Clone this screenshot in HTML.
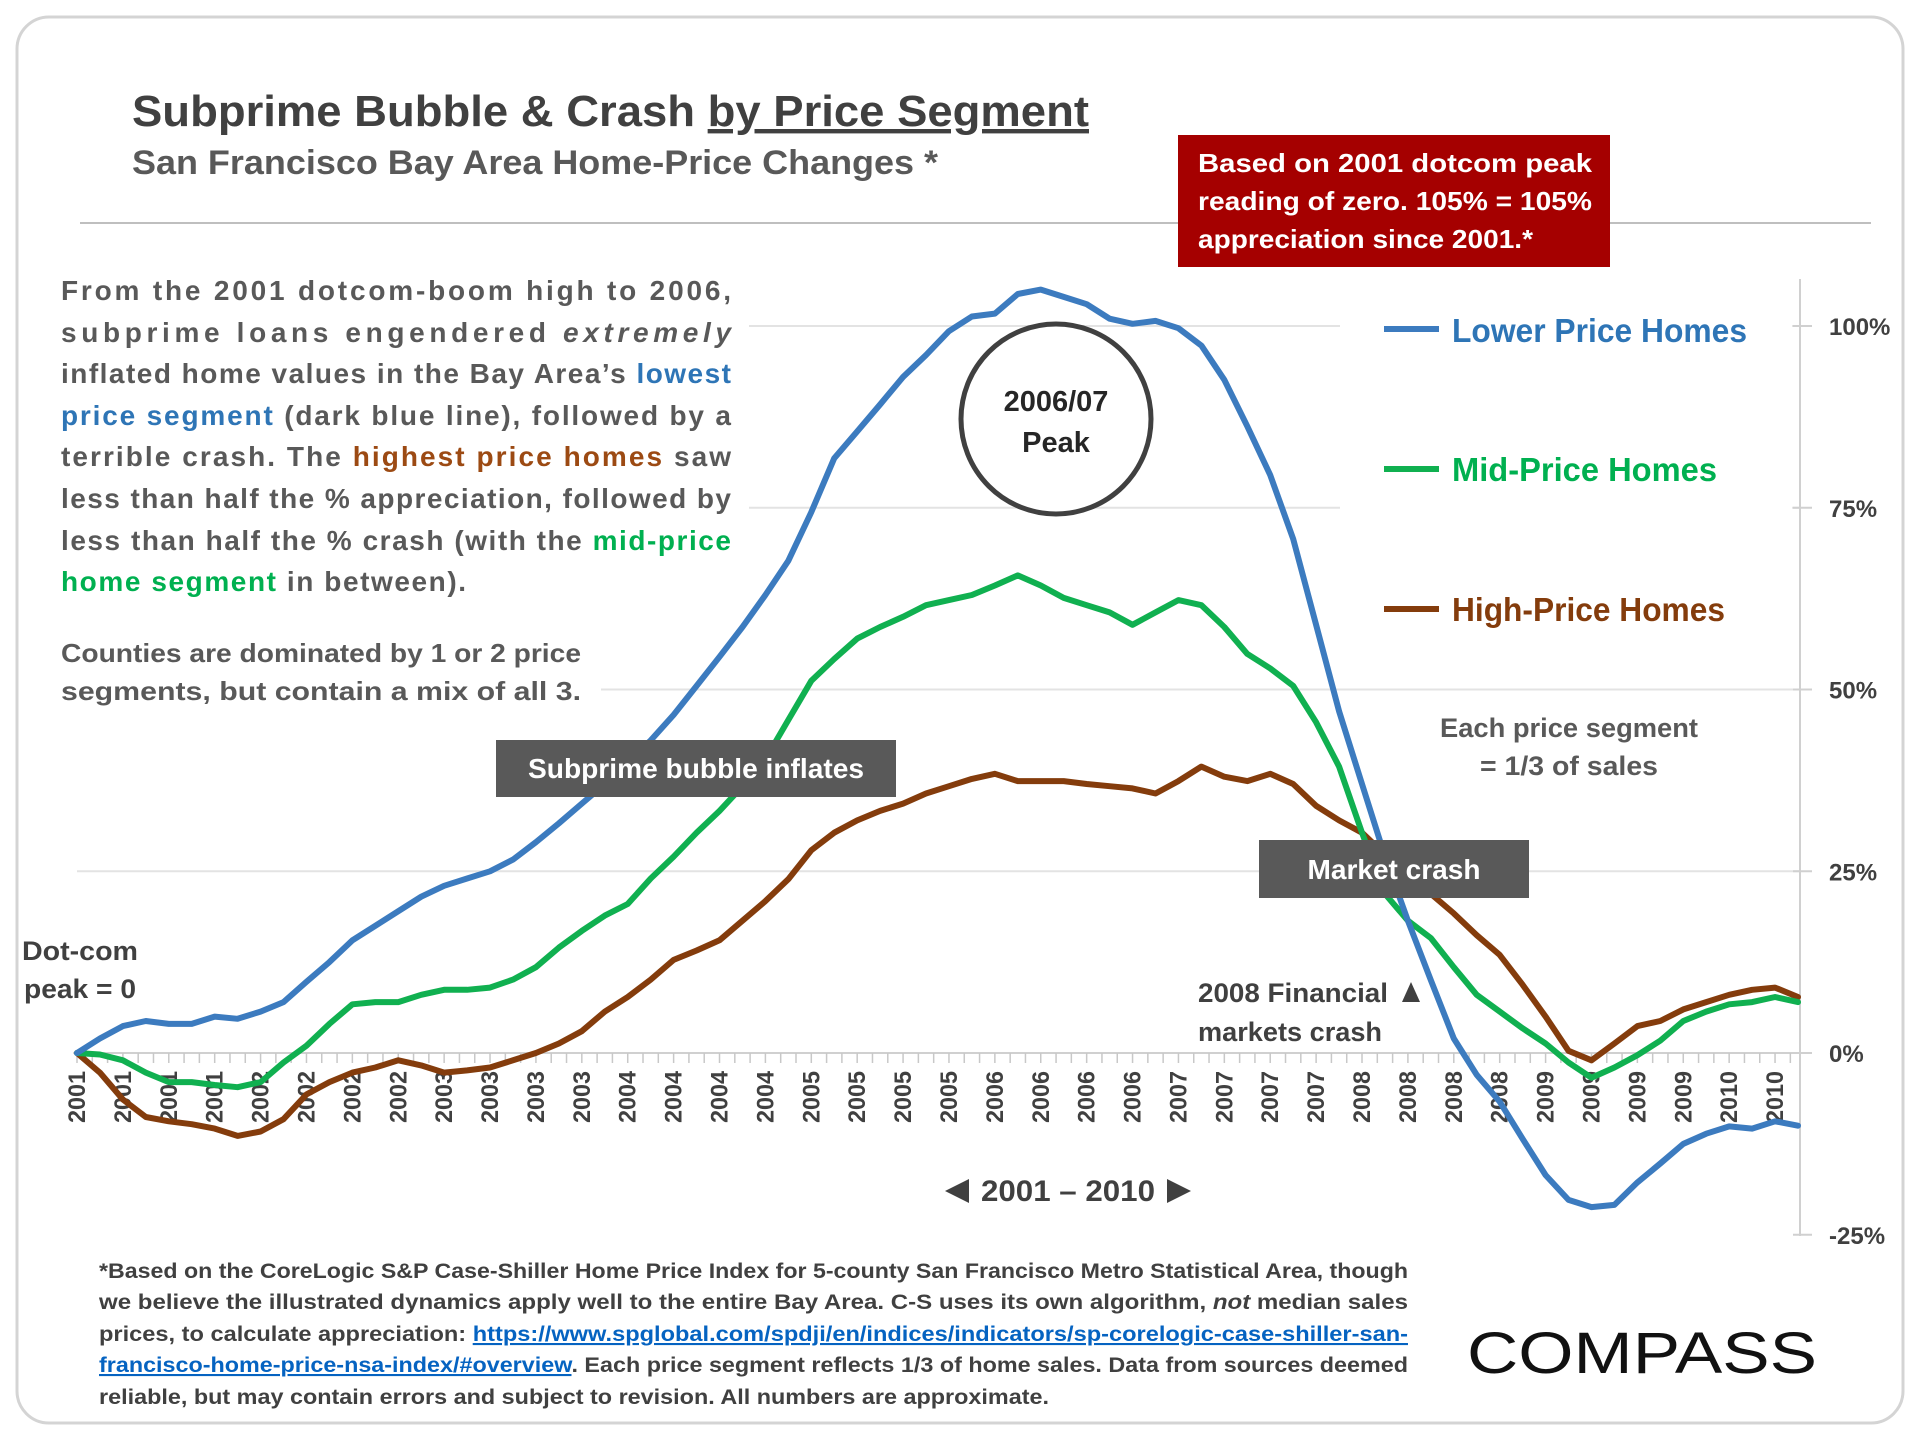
<!DOCTYPE html>
<html><head><meta charset="utf-8"><style>
html,body{margin:0;padding:0;background:#fff;}
svg{display:block;font-family:"Liberation Sans",sans-serif;font-weight:bold;}
</style></head><body>
<svg id="chart" width="1920" height="1440" viewBox="0 0 1920 1440">
<rect x="17" y="17" width="1886" height="1406" rx="32" fill="#fff" stroke="#d4d4d4" stroke-width="3"/>
<text x="132" y="126" font-size="44" fill="#404040" textLength="957" lengthAdjust="spacingAndGlyphs">Subprime Bubble &amp; Crash <tspan text-decoration="underline">by Price Segment</tspan></text>
<text x="132" y="174" font-size="34" fill="#595959" textLength="806" lengthAdjust="spacingAndGlyphs">San Francisco Bay Area Home-Price Changes *</text>
<line x1="80" y1="223" x2="1871" y2="223" stroke="#bfbfbf" stroke-width="2"/>
<g id="grid"></g>
<g id="axis"></g>
<g id="series"></g>

<rect x="49" y="266" width="700" height="336" fill="#fff"/>
<g font-size="28" fill="#595959">
<text x="61" y="300" textLength="670" lengthAdjust="spacing">From the 2001 dotcom-boom high to 2006,</text>
<text x="61" y="342" textLength="670" lengthAdjust="spacing">subprime loans engendered <tspan font-style="italic">extremely</tspan></text>
<text x="61" y="383" textLength="670" lengthAdjust="spacing">inflated home values in the Bay Area’s <tspan fill="#2e75b6">lowest</tspan></text>
<text x="61" y="425" textLength="670" lengthAdjust="spacing"><tspan fill="#2e75b6">price segment</tspan> (dark blue line), followed by a</text>
<text x="61" y="466" textLength="670" lengthAdjust="spacing">terrible crash. The <tspan fill="#9c4a13">highest price homes</tspan> saw</text>
<text x="61" y="508" textLength="670" lengthAdjust="spacing">less than half the % appreciation, followed by</text>
<text x="61" y="550" textLength="670" lengthAdjust="spacing">less than half the % crash (with the <tspan fill="#00b050">mid-price</tspan></text>
<text x="61" y="591" textLength="405" lengthAdjust="spacing"><tspan fill="#00b050">home segment</tspan> in between).</text>
</g>
<rect x="49" y="630" width="552" height="80" fill="#fff"/>
<g font-size="26" fill="#595959">
<text x="61" y="662" textLength="520" lengthAdjust="spacingAndGlyphs">Counties are dominated by 1 or 2 price</text>
<text x="61" y="700" textLength="520" lengthAdjust="spacingAndGlyphs">segments, but contain a mix of all 3.</text>
</g>

<rect x="1178" y="135" width="432" height="132" fill="#a50000"/>
<g font-size="26" fill="#fff">
<text x="1198" y="172" textLength="394" lengthAdjust="spacingAndGlyphs">Based on 2001 dotcom peak</text>
<text x="1198" y="210" textLength="394" lengthAdjust="spacingAndGlyphs">reading of zero. 105% = 105%</text>
<text x="1198" y="248" textLength="335" lengthAdjust="spacingAndGlyphs">appreciation since 2001.*</text>
</g>

<rect x="1340" y="300" width="452" height="340" fill="#fff"/>
<g>
<g><line x1="1384" y1="329" x2="1439" y2="329" stroke="#3c7bbf" stroke-width="6"/><text x="1452" y="342" font-size="33" fill="#2e75b6" textLength="295" lengthAdjust="spacingAndGlyphs">Lower Price Homes</text></g>
<g><line x1="1384" y1="469" x2="1439" y2="469" stroke="#10b050" stroke-width="6"/><text x="1452" y="481" font-size="33" fill="#00b050" textLength="265" lengthAdjust="spacingAndGlyphs">Mid-Price Homes</text></g>
<g><line x1="1384" y1="609" x2="1439" y2="609" stroke="#843c0c" stroke-width="6"/><text x="1452" y="621" font-size="33" fill="#843c0c" textLength="273" lengthAdjust="spacingAndGlyphs">High-Price Homes</text></g>
</g>

<g font-size="27" fill="#595959" text-anchor="middle">
<text x="1569" y="737" textLength="258" lengthAdjust="spacingAndGlyphs">Each price segment</text>
<text x="1569" y="775" textLength="178" lengthAdjust="spacingAndGlyphs">= 1/3 of sales</text>
</g>

<circle cx="1056" cy="419" r="95" fill="#fff" stroke="#404040" stroke-width="5"/>
<text x="1056" y="411" font-size="29" fill="#262626" text-anchor="middle">2006/07</text>
<text x="1056" y="452" font-size="29" fill="#262626" text-anchor="middle">Peak</text>

<rect x="496" y="740" width="400" height="57" fill="#595959"/>
<text x="696" y="778" font-size="28" fill="#fff" text-anchor="middle" textLength="336" lengthAdjust="spacingAndGlyphs">Subprime bubble inflates</text>
<rect x="1259" y="840" width="270" height="58" fill="#595959"/>
<text x="1394" y="879" font-size="28" fill="#fff" text-anchor="middle" textLength="173" lengthAdjust="spacingAndGlyphs">Market crash</text>

<g font-size="27" fill="#404040">
<text x="22" y="960" textLength="116" lengthAdjust="spacingAndGlyphs">Dot-com</text>
<text x="24" y="998" textLength="112" lengthAdjust="spacingAndGlyphs">peak = 0</text>
</g>
<g font-size="27" fill="#404040">
<text x="1198" y="1002" textLength="190" lengthAdjust="spacingAndGlyphs">2008 Financial</text>
<polygon points="1402,1002 1411,982 1420,1002" fill="#404040"/>
<text x="1198" y="1041" textLength="184" lengthAdjust="spacingAndGlyphs">markets crash</text>
</g>
<g fill="#404040">
<polygon points="945,1191 969,1179 969,1203"/>
<text x="1068" y="1201" font-size="30" text-anchor="middle" textLength="174" lengthAdjust="spacingAndGlyphs">2001 – 2010</text>
<polygon points="1191,1191 1167,1179 1167,1203"/>
</g>

<g font-size="21" fill="#404040">
<text x="99" y="1278" textLength="1309" lengthAdjust="spacingAndGlyphs">*Based on the CoreLogic S&amp;P Case-Shiller Home Price Index for 5-county San Francisco Metro Statistical Area, though</text>
<text x="99" y="1309" textLength="1309" lengthAdjust="spacingAndGlyphs">we believe the illustrated dynamics apply well to the entire Bay Area. C-S uses its own algorithm, <tspan font-style="italic">not</tspan> median sales</text>
<text x="99" y="1341" textLength="1309" lengthAdjust="spacingAndGlyphs">prices, to calculate appreciation: <tspan fill="#0563c1" text-decoration="underline">https://www.spglobal.com/spdji/en/indices/indicators/sp-corelogic-case-shiller-san-</tspan></text>
<text x="99" y="1372" textLength="1309" lengthAdjust="spacingAndGlyphs"><tspan fill="#0563c1" text-decoration="underline">francisco-home-price-nsa-index/#overview</tspan>. Each price segment reflects 1/3 of home sales. Data from sources deemed</text>
<text x="99" y="1404" textLength="950" lengthAdjust="spacingAndGlyphs">reliable, but may contain errors and subject to revision. All numbers are approximate.</text>
</g>
<text x="1467" y="1373" font-size="58" font-weight="normal" fill="#111" textLength="350" lengthAdjust="spacingAndGlyphs">COMPASS</text>
</svg>
<script>
const xLabels = ["2001","2001","2001","2001","2002","2002","2002","2002","2003","2003","2003","2003","2004","2004","2004","2004","2005","2005","2005","2005","2006","2006","2006","2006","2007","2007","2007","2007","2008","2008","2008","2008","2009","2009","2009","2009","2010","2010"];
const yTicks = [-25, 0, 25, 50, 75, 100];
const lowerPrice = [0,2,3.7,4.4,4,4,5,4.7,5.7,7,9.8,12.5,15.5,17.5,19.5,21.5,23,24,25,26.6,29,31.6,34.3,37,40,43,46.5,50.5,54.5,58.6,63,67.7,74.4,81.8,85.5,89.2,93,96,99.3,101.3,101.7,104.4,105,104,103,101,100.3,100.7,99.7,97.3,92.6,86.2,79.5,70.7,58.9,47,37,27,18.2,10,2,-3,-6.7,-11.8,-16.8,-20.2,-21.2,-20.9,-17.8,-15.2,-12.5,-11.1,-10.1,-10.4,-9.4,-10];
const midPrice = [0,-0.2,-1,-2.7,-4,-4,-4.4,-4.7,-4,-1.3,1,4,6.7,7,7,8,8.7,8.7,9,10.1,11.8,14.5,16.8,18.9,20.5,24,27,30.3,33.3,36.7,40.4,45.8,51.2,54.2,57,58.6,60,61.6,62.3,63,64.3,65.7,64.3,62.6,61.6,60.6,58.9,60.6,62.3,61.6,58.6,54.9,52.9,50.5,45.5,39.4,30.3,21.9,18.2,15.8,11.8,8,5.7,3.4,1.3,-1.3,-3.4,-2,-0.3,1.7,4.4,5.7,6.7,7,7.7,7];
const highPrice = [0,-2.7,-6.4,-8.8,-9.4,-9.8,-10.4,-11.4,-10.8,-9.1,-5.7,-4,-2.7,-2,-1,-1.7,-2.7,-2.4,-2,-1,0,1.3,3,5.7,7.7,10.1,12.8,14.1,15.5,18.2,20.9,23.9,27.9,30.3,32,33.3,34.3,35.7,36.7,37.7,38.4,37.4,37.4,37.4,37,36.7,36.4,35.7,37.4,39.4,38,37.4,38.4,37,34,32,30.3,27.3,24.6,21.9,19.2,16.2,13.5,9.4,5,0.3,-1,1.3,3.7,4.4,6,7,8,8.7,9,7.7];

const NS = "http://www.w3.org/2000/svg";
const X0 = 77, X1 = 1798, Y0 = 1053, Y100 = 326;
const nPts = lowerPrice.length;
function xPos(i){ return X0 + i*(X1-X0)/(nPts-1); }
function yPos(v){ return Y0 - v*(Y0-Y100)/100; }
function mk(tag, attrs, parent){ const e=document.createElementNS(NS,tag); for(const k in attrs) e.setAttribute(k, attrs[k]); parent.appendChild(e); return e; }

const grid = document.getElementById('grid');
const axis = document.getElementById('axis');
yTicks.forEach(t=>{
  if(t!==0 && t!==-25){
    const g = mk('line',{x1:X0,x2:1800,y1:yPos(t),y2:yPos(t),stroke:'#e3e3e3','stroke-width':2},grid);
    
    
  }
  const tk = mk('line',{x1:1793,x2:1812,y1:yPos(t),y2:yPos(t),stroke:'#d0d0d0','stroke-width':2},axis);
  
  
  const lb = mk('text',{x:1829,y:yPos(t)+9,'font-size':24,fill:'#404040'},axis);
  lb.textContent = t + '%';
  
  
});
const yAxis = mk('line',{x1:1800,x2:1800,y1:279,y2:1236,stroke:'#d0d0d0','stroke-width':2},axis);


const xAxis = mk('line',{x1:X0-4,x2:1812,y1:Y0,y2:Y0,stroke:'#d0d0d0','stroke-width':2},axis);


const step = (X1-X0)/(nPts-1);
for(let k=0; k<=(nPts-1)*1.5; k++){
  const xx = X0 + k*step*2/3;
  if(xx>1800) break;
  const tk = mk('line',{x1:xx,x2:xx,y1:Y0,y2:Y0+10,stroke:'#c8c8c8','stroke-width':1.5},axis);
  
  
}
xLabels.forEach((l,k)=>{
  const xx = xPos(k*2);
  const t = mk('text',{x:0,y:0,'font-size':24,fill:'#404040','text-anchor':'end',transform:`translate(${xx+8},${Y0+18}) rotate(-90)`,textLength:52,lengthAdjust:'spacingAndGlyphs'},axis);
  t.textContent = l;
  
  
});

const series = document.getElementById('series');
[[highPrice,'#843c0c','line-high-price'],[midPrice,'#10b050','line-mid-price'],[lowerPrice,'#3c7bbf','line-lower-price']].forEach(([arr,col,name])=>{
  const d = arr.map((v,i)=>(i?'L':'M')+xPos(i).toFixed(1)+','+yPos(v).toFixed(1)).join(' ');
  const p = mk('path',{d:d,fill:'none',stroke:col,'stroke-width':6,'stroke-linejoin':'round','stroke-linecap':'round'},series);
  
  
});
</script>
</body></html>
